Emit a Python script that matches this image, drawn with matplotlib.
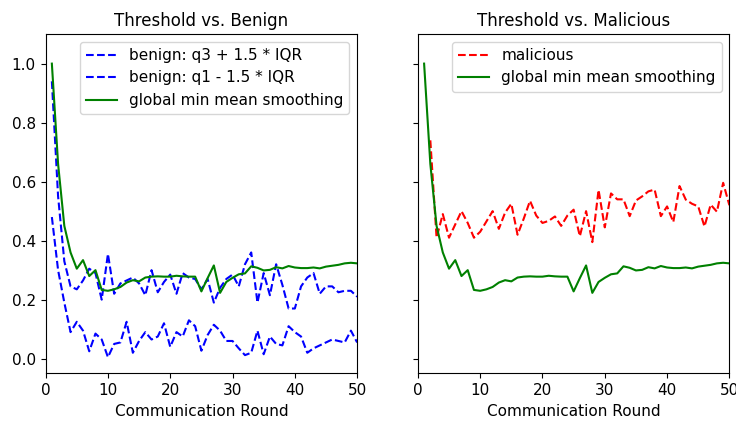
import numpy as np
import matplotlib
matplotlib.use('Agg')
import matplotlib.pyplot as plt

plt.rcParams.update({
    "font.size": 11,
    "axes.titlesize": 12,
})

rounds = np.arange(1, 51)

benign_upper = [0.94, 0.55, 0.33, 0.245, 0.235, 0.265, 0.305, 0.29, 0.20, 0.355,
                0.22, 0.255, 0.265, 0.275, 0.255, 0.215, 0.30, 0.225, 0.26, 0.285,
                0.22, 0.29, 0.275, 0.27, 0.235, 0.27, 0.19, 0.24, 0.27, 0.285,
                0.245, 0.32, 0.36, 0.19, 0.29, 0.215, 0.32, 0.25, 0.17, 0.17,
                0.245, 0.275, 0.29, 0.22, 0.245, 0.245, 0.225, 0.23, 0.23, 0.21]

benign_lower = [0.48, 0.30, 0.19, 0.09, 0.125, 0.095, 0.025, 0.085, 0.065, 0.005,
                0.05, 0.055, 0.125, 0.02, 0.06, 0.09, 0.065, 0.075, 0.12, 0.04,
                0.09, 0.075, 0.13, 0.11, 0.027, 0.08, 0.115, 0.095, 0.06, 0.06,
                0.035, 0.012, 0.02, 0.095, 0.015, 0.075, 0.05, 0.045, 0.11, 0.09,
                0.075, 0.02, 0.035, 0.045, 0.055, 0.065, 0.06, 0.055, 0.095, 0.055]

# malicious threshold only exists from round 2 onward
malicious_rounds = np.arange(2, 51)
malicious = [0.74, 0.41, 0.49, 0.41, 0.455, 0.50, 0.46, 0.41, 0.43,
             0.465, 0.50, 0.44, 0.495, 0.525, 0.42, 0.475, 0.535, 0.485, 0.46,
             0.467, 0.482, 0.45, 0.485, 0.505, 0.415, 0.50, 0.395, 0.572, 0.445,
             0.56, 0.54, 0.54, 0.483, 0.536, 0.55, 0.567, 0.573, 0.483, 0.516,
             0.463, 0.585, 0.539, 0.525, 0.516, 0.448, 0.522, 0.498, 0.596, 0.52]

global_smooth = [1.0, 0.66, 0.45, 0.36, 0.305, 0.334, 0.28, 0.30, 0.233, 0.23,
                 0.235, 0.243, 0.258, 0.266, 0.262, 0.275, 0.278, 0.279, 0.278, 0.278,
                 0.281, 0.279, 0.278, 0.278, 0.228, 0.273, 0.316, 0.223, 0.26, 0.274,
                 0.286, 0.289, 0.313, 0.308, 0.299, 0.301, 0.31, 0.306, 0.314, 0.309,
                 0.307, 0.307, 0.309, 0.306, 0.312, 0.315, 0.318, 0.323, 0.325, 0.323]

fig, (ax1, ax2) = plt.subplots(1, 2, figsize=(7.36, 4.21), dpi=100, sharey=True)
fig.subplots_adjust(left=0.062, right=0.991, bottom=0.113, top=0.919, wspace=0.195)

ax1.plot(rounds, benign_upper, 'b--', label='benign: q3 + 1.5 * IQR')
ax1.plot(rounds, benign_lower, 'b--', label='benign: q1 - 1.5 * IQR')
ax1.plot(rounds, global_smooth, 'g-', label='global min mean smoothing')
ax1.set_title('Threshold vs. Benign')
ax1.set_xlabel('Communication Round')
ax1.legend(loc='upper right')

ax2.plot(malicious_rounds, malicious, 'r--', label='malicious')
ax2.plot(rounds, global_smooth, 'g-', label='global min mean smoothing')
ax2.set_title('Threshold vs. Malicious')
ax2.set_xlabel('Communication Round')
ax2.legend(loc='upper right')

for ax in (ax1, ax2):
    ax.set_xlim(0, 50)
ax1.set_ylim(-0.05, 1.1)

plt.savefig('out.png')
